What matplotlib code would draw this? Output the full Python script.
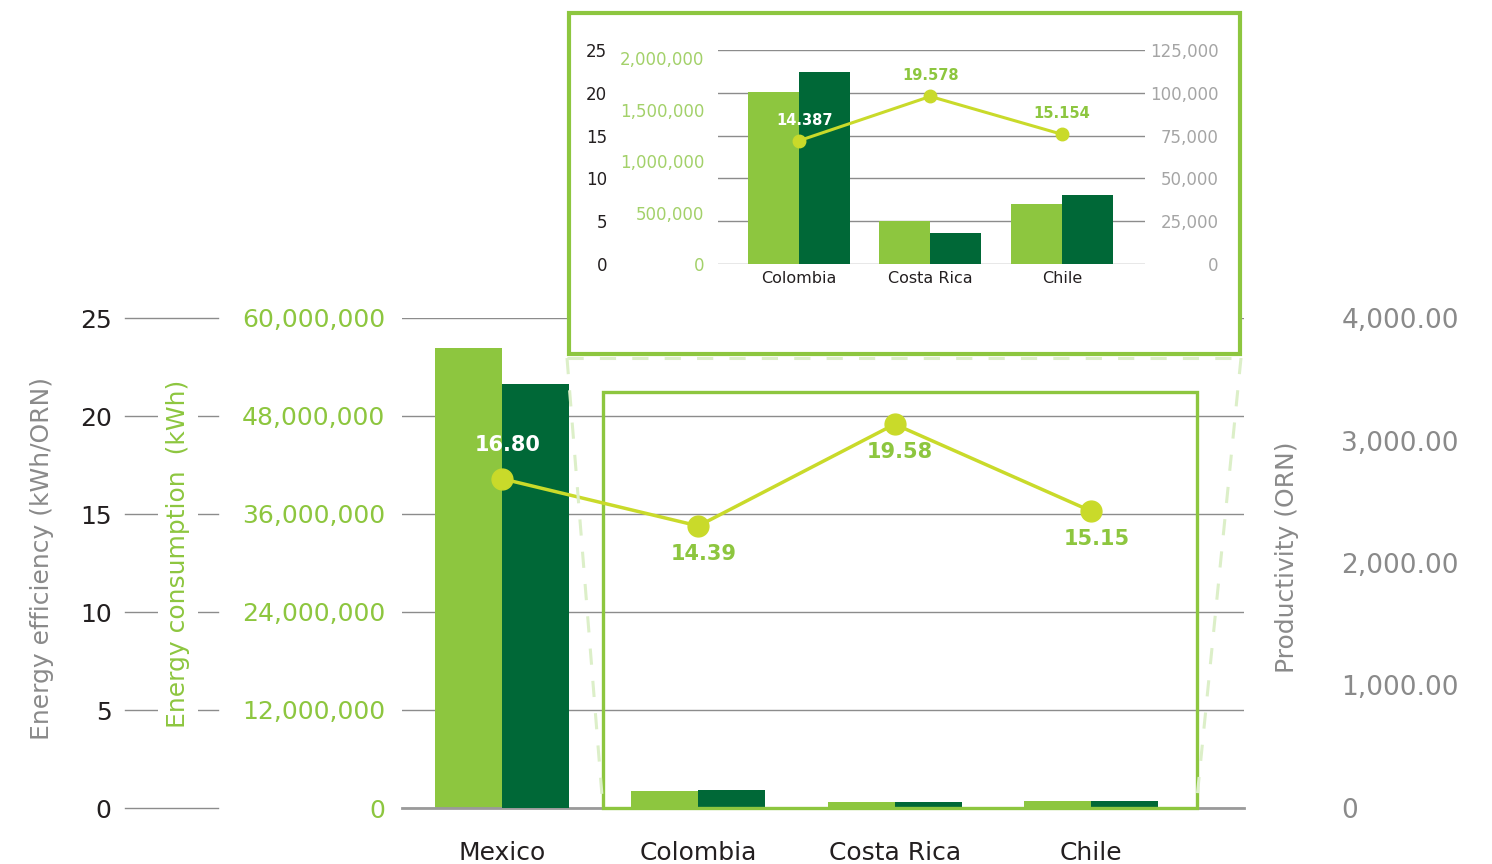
import matplotlib
matplotlib.use("Agg")
import matplotlib.pyplot as plt
import matplotlib.ticker as mticker
from matplotlib.patches import Rectangle
from matplotlib.lines import Line2D
import numpy as np

plt.rcParams["font.family"] = "DejaVu Sans"

# main chart
countries = ["Mexico", "Colombia", "Costa Rica", "Chile"]
consumption = [56.3e6, 2.12e6, 0.73e6, 0.86e6]     # kWh (light bars)
productivity = [3461, 147, 49, 57]                 # ORN (dark bars)
efficiency = [16.80, 14.39, 19.58, 15.15]          # kWh/ORN (line)

# zoomed inset
inset_countries = ["Colombia", "Costa Rica", "Chile"]
inset_consumption = [1.673e6, 0.416e6, 0.583e6]
inset_productivity = [112200, 18000, 40100]
inset_efficiency = [14.387, 19.578, 15.154]

LIGHT = "#8DC63F"
DARK = "#006837"
LINE = "#C9DA2A"
GRID = "#8c8c8c"
GRAY = "#8a8a8a"
TXT = "#231f20"
DASH = "#DCEFC8"

W, H = 1492, 864
fig = plt.figure(figsize=(W / 100, H / 100), dpi=100)


def fx(px):
    return px / W


def fy(py):
    return 1 - py / H


# ---------------- main chart ----------------
ax = fig.add_axes([fx(402), fy(808), fx(1244) - fx(402), fy(318) - fy(808)])
ax_prod = ax.twinx()
ax_eff = ax.twinx()

x = np.arange(len(countries))
bw = 0.341
ax.bar(x - bw / 2, consumption, bw, color=LIGHT, zorder=2)
ax_prod.bar(x + bw / 2, productivity, bw, color=DARK)
ax_eff.plot(x, efficiency, color=LINE, lw=2.5, marker="o", ms=15, zorder=5)

for i, v in enumerate(efficiency):
    if i == 0:
        ax_eff.annotate(f"{v:.2f}", (x[i], v), xytext=(4, 24), textcoords="offset points",
                        ha="center", va="center", color="white", fontsize=15, weight="bold", zorder=6)
    else:
        ax_eff.annotate(f"{v:.2f}", (x[i], v), xytext=(4, -20), textcoords="offset points",
                        ha="center", va="center", color=LIGHT, fontsize=15, weight="bold", zorder=6)

# zoom box around the small countries
ax_eff.add_patch(Rectangle((0.515, 0), 3.539 - 0.515, 21.22, fill=False, ec=LIGHT,
                           lw=2.4, clip_on=False, zorder=4))

ax.set_xlim(-0.509, 3.779)
ax.set_ylim(0, 60e6)
ax_prod.set_ylim(0, 4000)

for a in (ax, ax_prod, ax_eff):
    for s in a.spines.values():
        s.set_visible(False)
ax.spines["bottom"].set_visible(True)
ax.spines["bottom"].set_color("#9a9a9a")
ax.spines["bottom"].set_linewidth(2)

ax.set_xticks(x, countries)
ax.tick_params(axis="x", length=0, pad=24, labelsize=18, labelcolor=TXT)

ax.set_yticks(np.arange(0, 60e6 + 1, 12e6))
ax.yaxis.set_major_formatter(mticker.FuncFormatter(lambda v, p: f"{v:,.0f}"))
ax.tick_params(axis="y", length=0, pad=12, labelsize=18, labelcolor=LIGHT)
ax.yaxis.grid(True, color=GRID, lw=1)
ax.set_axisbelow(True)

ax_eff.yaxis.tick_left()
ax_eff.set_yticks(np.arange(0, 26, 5))
ax_eff.tick_params(axis="y", length=0, pad=209, labelsize=18, labelcolor=TXT)
tr = ax_eff.get_yaxis_transform()
for v in np.arange(0, 26, 5):
    ax_eff.plot([-0.329, -0.2185], [v, v], transform=tr, color=GRID, lw=1, clip_on=False)
ax_eff.set_ylim(0, 25)

ax_prod.set_yticks(np.arange(0, 4001, 1000))
ax_prod.yaxis.set_major_formatter(mticker.FuncFormatter(lambda v, p: "0" if v == 0 else f"{v:,.2f}"))
ax_prod.tick_params(axis="y", length=0, pad=70, labelsize=19, labelcolor=GRAY)

fig.text(fx(42), fy(558), "Energy efficiency (kWh/ORN)", rotation=90, ha="center", va="center",
         color=GRAY, fontsize=18)
fig.text(fx(178), fy(554), "Energy consumption  (kWh)", rotation=90, ha="center", va="center",
         color=LIGHT, fontsize=18, bbox=dict(fc="white", ec="none", pad=6))
fig.text(fx(1287), fy(557), "Productivity (ORN)", rotation=90, ha="center", va="center",
         color=GRAY, fontsize=18)

# ---------------- inset frame + connectors ----------------
fig.add_artist(Rectangle((fx(568.5), fy(354)), fx(1240) - fx(568.5), fy(13) - fy(354),
                         transform=fig.transFigure, fc="white", ec=LIGHT, lw=3, zorder=1))
for xs, ys in [([567, 1241], [358, 358]), ([567, 603], [358, 808]), ([1241, 1196], [358, 808])]:
    fig.add_artist(Line2D([fx(v) for v in xs], [fy(v) for v in ys], transform=fig.transFigure,
                          color=DASH, lw=2.2, linestyle=(0, (5.3, 5.3)), zorder=1))

# ---------------- inset chart ----------------
axi = fig.add_axes([fx(718), fy(264), fx(1145) - fx(718), fy(50) - fy(264)])
axi.set_zorder(2)
axi.patch.set_visible(False)
axi_cons = axi.twinx()
axi_cons.set_zorder(3)
axi_eff = axi.twinx()
axi_eff.set_zorder(4)

xi = np.arange(len(inset_countries))
bwi = 0.387
axi.bar(xi + bwi / 2, inset_productivity, bwi, color=DARK)
axi_cons.bar(xi - bwi / 2, inset_consumption, bwi, color=LIGHT)
axi_eff.plot(xi, inset_efficiency, color=LINE, lw=2.2, marker="o", ms=9, zorder=5)
for i, v in enumerate(inset_efficiency):
    axi_eff.annotate(f"{v:.3f}", (xi[i], v), xytext=(4 if i == 0 else 0, 15),
                     textcoords="offset points", ha="center", va="center",
                     color="white" if i == 0 else LIGHT, fontsize=10.5, weight="bold")

axi.set_xlim(-0.612, 2.631)
for a in (axi, axi_cons, axi_eff):
    for s in a.spines.values():
        s.set_visible(False)

axi.set_xticks(xi, inset_countries)
axi.tick_params(axis="x", length=0, pad=5, labelsize=11.5, labelcolor=TXT)

axi.yaxis.tick_right()
axi.set_ylim(0, 125000)
axi.set_yticks(np.arange(0, 125001, 25000))
axi.yaxis.set_major_formatter(mticker.FuncFormatter(lambda v, p: f"{v:,.0f}"))
axi.tick_params(axis="y", length=0, pad=53, labelsize=12, labelcolor="#a5a5a5")
for t in axi.get_yticklabels():
    t.set_horizontalalignment("right")
axi.yaxis.grid(True, color=GRID, lw=1)
axi.set_axisbelow(True)

axi_cons.yaxis.tick_left()
axi_cons.set_ylim(0, 2.08e6)
axi_cons.set_yticks(np.arange(0, 2.0e6 + 1, 5e5))
axi_cons.yaxis.set_major_formatter(mticker.FuncFormatter(lambda v, p: f"{v:,.0f}"))
axi_cons.tick_params(axis="y", length=0, pad=10, labelsize=12, labelcolor="#A3D16A")

axi_eff.yaxis.tick_left()
axi_eff.set_ylim(0, 25)
axi_eff.set_yticks(np.arange(0, 26, 5))
axi_eff.tick_params(axis="y", length=0, pad=80, labelsize=12, labelcolor=TXT)

fig.savefig("out.png", dpi=100)
